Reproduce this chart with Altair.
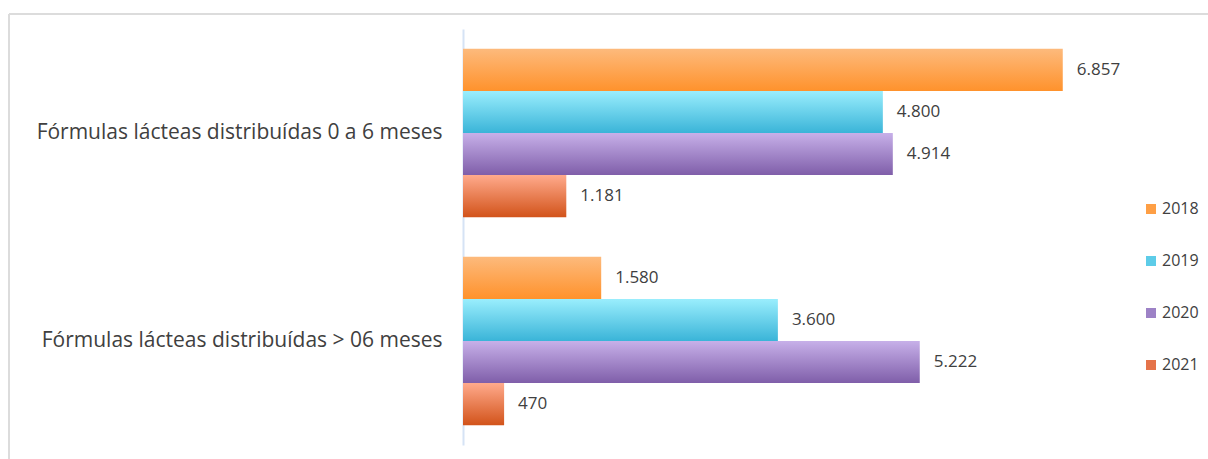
import altair as alt
import pandas as pd

categories = ["Fórmulas lácteas distribuídas 0 a 6 meses",
              "Fórmulas lácteas distribuídas > 06 meses"]
years = ["2018", "2019", "2020", "2021"]
values_0_6 = [6857, 4800, 4914, 1181]
values_gt6 = [1580, 3600, 5222, 470]
labels_0_6 = ["6.857", "4.800", "4.914", "1.181"]
labels_gt6 = ["1.580", "3.600", "5.222", "470"]
top_colors = ["#FDBA7C", "#9AEEFD", "#C7B0E9", "#FFAA8C"]
bottom_colors = ["#FF922C", "#3AB4D8", "#7F5EA9", "#D2531A"]
legend_colors = ["#FE9F45", "#5DCCE8", "#9D82C6", "#E5734A"]

rows = []
for cat, vals, labs in [(categories[0], values_0_6, labels_0_6),
                        (categories[1], values_gt6, labels_gt6)]:
    for yr, v, l in zip(years, vals, labs):
        rows.append({"cat": cat, "year": yr, "value": v, "label": l})
df = pd.DataFrame(rows)

FONT = "Open Sans"
TXT = "#404040"

x = alt.X("value:Q", scale=alt.Scale(domain=[0, 7500]), axis=None)
y = alt.Y("cat:N", sort=categories,
          scale=alt.Scale(domain=categories, paddingInner=0.19, paddingOuter=0.095),
          axis=alt.Axis(title=None, ticks=False, labelPadding=21, labelFontSize=21,
                        labelFont=FONT, labelColor=TXT, domainColor="#D6E3F5",
                        domainWidth=2, labelLimit=600, grid=False))
yoff = alt.YOffset("year:N", scale=alt.Scale(domain=years, paddingInner=0, paddingOuter=0))

base = alt.Chart(df)

layers = []
for yr, tc, bc in zip(years, top_colors, bottom_colors):
    grad = alt.Gradient(gradient="linear", x1=0, y1=0, x2=0, y2=1,
                        stops=[alt.GradientStop(color=tc, offset=0),
                               alt.GradientStop(color=bc, offset=1)])
    layers.append(
        base.transform_filter(alt.datum.year == yr)
        .mark_bar(color=grad)
        .encode(x=x, y=y, yOffset=yoff)
    )

texts = base.mark_text(align="left", baseline="middle", dx=14, fontSize=17,
                       font=FONT, color=TXT).encode(x=x, y=y, yOffset=yoff, text="label:N")

legend_layer = base.mark_square(opacity=0).encode(
    x=x, y=y, yOffset=yoff,
    color=alt.Color("year:N", scale=alt.Scale(domain=years, range=legend_colors),
                    legend=alt.Legend(title=None, orient="none", legendX=680, legendY=172,
                                      symbolType="square", symbolSize=100,
                                      symbolOpacity=1, symbolStrokeWidth=0,
                                      labelFont=FONT, labelFontSize=16, labelColor=TXT,
                                      rowPadding=36, labelOffset=3))
)

border_df = pd.DataFrame({"k": [0]})
border_top = alt.Chart(border_df).mark_rule(color="#DCDCDC", strokeWidth=2).encode(
    x=alt.value(-454), x2=alt.value(760), y=alt.value(-15))
border_left = alt.Chart(border_df).mark_rule(color="#DCDCDC", strokeWidth=2).encode(
    x=alt.value(-454), y=alt.value(-15), y2=alt.value(440))

chart = alt.layer(border_top, border_left, *layers, texts, legend_layer).properties(
    width=656, height=416,
    autosize=alt.AutoSizeParams(type="none"),
    padding={"left": 463, "top": 29, "right": 89, "bottom": 14},
).configure(background="white").configure_view(stroke=None)

chart.save("out.html", embed_options={"renderer": "svg", "actions": False})
